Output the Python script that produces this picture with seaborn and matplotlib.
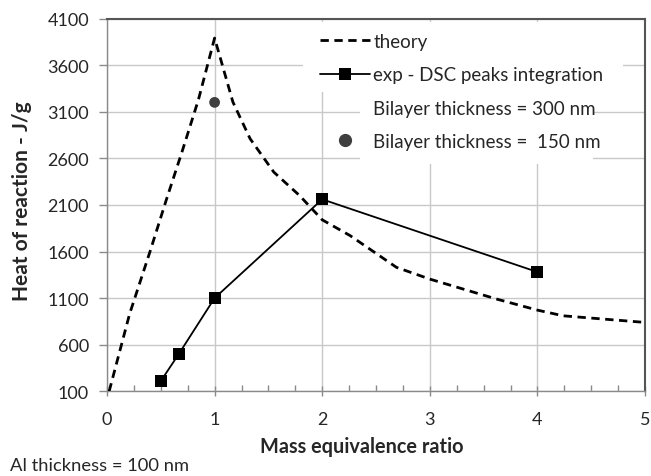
import matplotlib
matplotlib.use("Agg")
import matplotlib.pyplot as plt
from matplotlib.lines import Line2D
from matplotlib.patches import Rectangle
from matplotlib.ticker import MultipleLocator
import seaborn as sns
import pandas as pd

# Data
theory_x = [0.02, 0.21, 0.40, 0.55, 0.70, 0.85, 1.0, 1.17, 1.33, 1.55, 1.79, 2.0, 2.26, 2.69, 3.0, 3.62, 4.0, 4.24, 5.0]
theory_y = [100, 930, 1600, 2150, 2680, 3230, 3890, 3204, 2810, 2452, 2200, 1940, 1770, 1430, 1304, 1090, 971, 910, 839]
exp_x = [0.5, 0.667, 1.0, 2.0, 4.0]
exp_y = [210, 500, 1100, 2160, 1380]
b150_x = [1.0]
b150_y = [3200]
yticks = [100, 600, 1100, 1600, 2100, 2600, 3100, 3600, 4100]
xticks = [0, 1, 2, 3, 4, 5]
legend_labels = ["theory", "exp - DSC peaks integration",
                 "Bilayer thickness = 300 nm", "Bilayer thickness =  150 nm"]

sns.set_theme(style="white")
plt.rcParams['font.family'] = ['Lato', 'DejaVu Sans']

W, H = 651, 477
fig = plt.figure(figsize=(W/100, H/100), dpi=100)
ax = fig.add_axes([107/W, 1-392.3/H, (645-107)/W, (392.3-19.5)/H])

df_t = pd.DataFrame({"x": theory_x, "y": theory_y})
df_e = pd.DataFrame({"x": exp_x, "y": exp_y})
df_b = pd.DataFrame({"x": b150_x, "y": b150_y})

dash = (0, (3, 2))
sns.lineplot(data=df_t, x="x", y="y", ax=ax, sort=False, estimator=None,
             color="black", lw=2.0, linestyle=dash, zorder=3)
sns.lineplot(data=df_e, x="x", y="y", ax=ax, sort=False, estimator=None,
             color="black", lw=1.3, marker="s", markersize=8.5, markeredgewidth=0, zorder=3)
sns.scatterplot(data=df_b, x="x", y="y", ax=ax, color="#3f3f3f", s=60, edgecolor="none", zorder=4)

ax.set_xlim(0, 5)
ax.set_ylim(100, 4100)
ax.set_xticks(xticks)
ax.set_yticks(yticks)
ax.xaxis.set_minor_locator(MultipleLocator(0.25))
ax.grid(True, which="major", color="#c8c8c8", lw=1.0)
ax.set_axisbelow(True)

# white text-box backgrounds covering the grid (as in the reference)
ax.add_patch(Rectangle((303/W, 1-93/H), (623-303)/W, (93-23)/H, transform=fig.transFigure,
                       facecolor="white", edgecolor="none", zorder=1.5))
ax.add_patch(Rectangle((360/W, 1-165/H), (593-360)/W, (165-93)/H, transform=fig.transFigure,
                       facecolor="white", edgecolor="none", zorder=1.5))

for s in ["left", "bottom"]:
    ax.spines[s].set_color("#8a8a8a")
    ax.spines[s].set_linewidth(1.0)
for s in ["top", "right"]:
    ax.spines[s].set_color("#555555")
    ax.spines[s].set_linewidth(1.5)

ax.tick_params(axis="x", which="major", direction="inout", length=7, width=1, color="#8a8a8a",
               labelsize=13, pad=11, bottom=True)
ax.tick_params(axis="x", which="minor", direction="in", length=4, width=1, color="#8a8a8a", bottom=True)
ax.tick_params(axis="y", which="major", direction="out", length=6, width=1, color="#8a8a8a",
               labelsize=13, pad=7, left=True)

ax.set_xlabel("")
ax.set_ylabel("")
fig.text(362/W, 1-447/H, "Mass equivalence ratio", fontsize=14.3, fontweight="bold",
         ha="center", va="center")
fig.text(22/W, 1-201/H, "Heat of reaction - J/g", fontsize=15, fontweight="bold",
         ha="center", va="center", rotation=90)

handles = [
    Line2D([], [], color="black", lw=2.0, linestyle=dash),
    Line2D([], [], color="black", lw=1.3, marker="s", markersize=8.5, markeredgewidth=0),
    Line2D([], [], color="none"),
    Line2D([], [], color="#3f3f3f", lw=0, marker="o", markersize=8.5),
]
leg = ax.legend(handles, legend_labels, loc="upper left", bbox_to_anchor=(320/W, 1-34/H),
                bbox_transform=fig.transFigure, fontsize=13.5, frameon=False,
                handlelength=2.65, handletextpad=0.2, labelspacing=0.87, borderpad=0,
                borderaxespad=0)
leg.set_zorder(5)

fig.text(10/W, 1-466/H, "Al thickness = 100 nm", fontsize=13.2, va="center", ha="left")

fig.savefig("out.png", dpi=100)
